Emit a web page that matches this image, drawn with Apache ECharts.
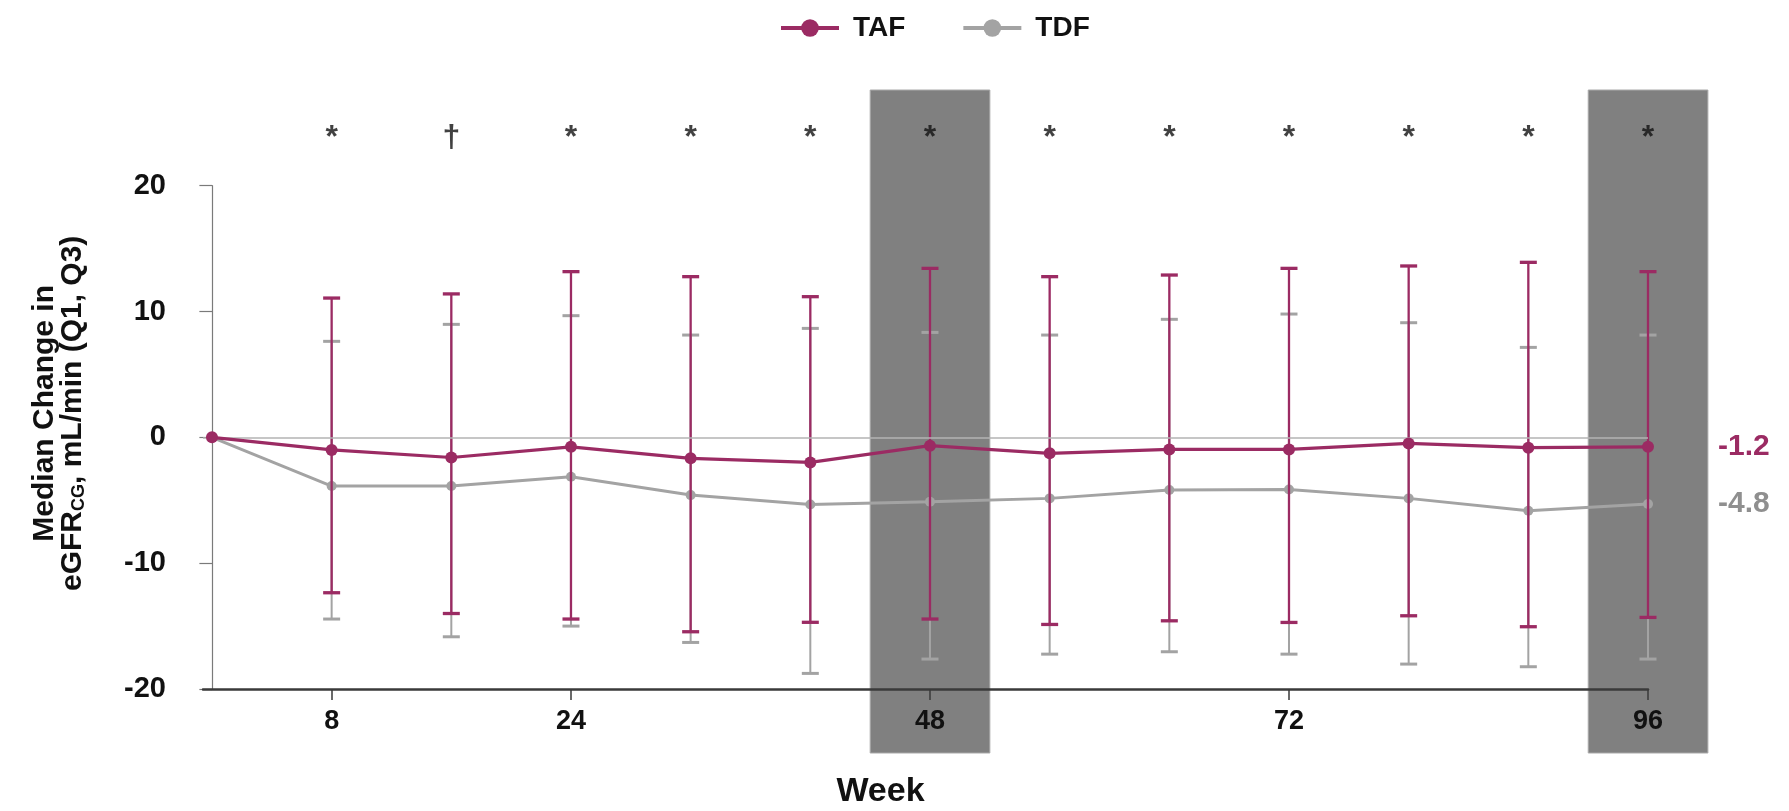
<!DOCTYPE html>
<html><head><meta charset="utf-8">
<script src="https://cdn.jsdelivr.net/npm/echarts@6/dist/echarts.min.js"></script>
<style>html,body{margin:0;padding:0;background:#fff}#c{width:1789px;height:811px}</style>
</head><body><div id="c"></div>
<script>
// ---- data ----
const weeks      = [0, 8, 16, 24, 32, 40, 48, 56, 64, 72, 80, 88, 96];
const tafMedian  = [0, -1.0, -1.6, -0.75, -1.67, -1.99, -0.66, -1.27, -0.96, -0.96, -0.48, -0.82, -0.75];
const tafQ1      = [null, -12.35, -14.0, -14.44, -15.45, -14.7, -14.44, -14.87, -14.58, -14.71, -14.18, -15.05, -14.31];
const tafQ3      = [null, 11.07, 11.4, 13.17, 12.77, 11.18, 13.43, 12.77, 12.9, 13.43, 13.62, 13.91, 13.17];
const tdfMedian  = [0, -3.87, -3.87, -3.13, -4.59, -5.33, -5.12, -4.85, -4.19, -4.14, -4.85, -5.83, -5.3];
const tdfQ1      = [null, -14.44, -15.85, -15.0, -16.3, -18.76, -17.62, -17.23, -17.04, -17.23, -18.02, -18.23, -17.62];
const tdfQ3      = [null, 7.63, 8.98, 9.67, 8.13, 8.66, 8.34, 8.13, 9.38, 9.8, 9.11, 7.15, 8.13];
const sigMarks   = ['', '*', '†', '*', '*', '*', '*', '*', '*', '*', '*', '*', '*'];
const sigLevel   = 23.8;
const xTickWeeks = [8, 24, 48, 72, 96];
const highlightWeeks = [[44, 52], [92, 100]];
const endLabels  = { TAF: '-1.2', TDF: '-4.8' };
const seriesNames = ['TAF', 'TDF'];

// ---- styles ----
const TAF_C = '#9b2b63';
const TDF_C = '#a3a3a3';
const FONT = "'Liberation Sans', Arial, Helvetica, sans-serif";

function errRender(color, lw, capHalf) {
  return function (params, api) {
    const x = api.value(0), lo = api.value(1), hi = api.value(2);
    const pLo = api.coord([x, lo]), pHi = api.coord([x, hi]);
    return {
      type: 'group',
      children: [
        { type: 'line', shape: { x1: pLo[0], y1: pLo[1], x2: pHi[0], y2: pHi[1] }, style: { stroke: color, lineWidth: lw } },
        { type: 'line', shape: { x1: pLo[0] - capHalf, y1: pLo[1], x2: pLo[0] + capHalf, y2: pLo[1] }, style: { stroke: color, lineWidth: lw + 1 } },
        { type: 'line', shape: { x1: pHi[0] - capHalf, y1: pHi[1], x2: pHi[0] + capHalf, y2: pHi[1] }, style: { stroke: color, lineWidth: lw + 1 } }
      ]
    };
  };
}
const tafErr = weeks.map((w, i) => [w, tafQ1[i], tafQ3[i]]).filter(d => d[1] != null);
const tdfErr = weeks.map((w, i) => [w, tdfQ1[i], tdfQ3[i]]).filter(d => d[1] != null);
const tafLine = weeks.map((w, i) => [w, tafMedian[i]]);
const tdfLine = weeks.map((w, i) => [w, tdfMedian[i]]);
const sigData = weeks.map((w, i) => [w, sigLevel, sigMarks[i]]).filter(d => d[2] !== '');

const chart = echarts.init(document.getElementById('c'), null, { renderer: 'canvas' });
chart.setOption({
  animation: false,
  textStyle: { fontFamily: FONT },
  legend: {
    data: seriesNames,
    left: 774, top: 9,
    itemWidth: 58, itemHeight: 22, itemGap: 56,
    textStyle: { fontSize: 28, fontWeight: 'bold', color: '#111', padding: [0, 0, 0, 9], fontFamily: FONT },
    lineStyle: { width: 4 }
  },
  grid: [
    { left: 203, right: 141, top: 185.7, bottom: 122, outerBoundsMode: 'none' },
    { left: 203, right: 81.1, top: 90, bottom: 58, outerBoundsMode: 'none' }
  ],
  xAxis: [
    {
      gridIndex: 0, type: 'value', min: -0.6, max: 96, z: 6,
      name: 'Week', nameLocation: 'middle', nameGap: 86,
      nameTextStyle: { fontSize: 34, fontWeight: 'bold', color: '#111', padding: [0, 90, 0, 0] },
      axisLine: { show: true, onZero: false, lineStyle: { color: '#3a3a3a', width: 2.5 } },
      axisTick: { show: true, customValues: xTickWeeks, length: 11, lineStyle: { color: '#3a3a3a', width: 1.5 } },
      axisLabel: { show: true, customValues: xTickWeeks, margin: 19, fontSize: 27, fontWeight: 'bold', color: '#111' },
      splitLine: { show: false }
    },
    { gridIndex: 1, type: 'value', min: -0.6, max: 100, show: false }
  ],
  yAxis: [
    {
      gridIndex: 0, type: 'value', min: -20, max: 20, interval: 10,
      name: 'Median Change in\n{b|eGFR}{s|CG}{b|, mL/min (Q1, Q3)}',
      nameLocation: 'middle', nameGap: 116, nameRotate: 90,
      nameTextStyle: {
        fontSize: 30, fontWeight: 'bold', color: '#111', lineHeight: 28, padding: [0, 0, 0, 48],
        rich: {
          b: { fontSize: 30, fontWeight: 'bold', color: '#111', fontFamily: FONT },
          s: { fontSize: 18, fontWeight: 'bold', color: '#111', fontFamily: FONT, padding: [12, 0, 0, 0] }
        }
      },
      axisLine: { show: true, lineStyle: { color: '#7a7a7a', width: 1.2 } },
      axisTick: { show: true, length: 12.6, lineStyle: { color: '#7a7a7a', width: 1.2 } },
      axisLabel: { margin: 37, fontSize: 29, fontWeight: 'bold', color: '#111' },
      splitLine: { show: false }
    },
    { gridIndex: 1, type: 'value', min: -25.1, max: 27.6, show: false }
  ],
  series: [
    {
      name: 'zero', type: 'line', xAxisIndex: 0, yAxisIndex: 0, data: [], z: 0, silent: true,
      markLine: {
        silent: true, symbol: 'none', label: { show: false },
        lineStyle: { color: '#b3b3b3', width: 1.5, type: 'solid' },
        data: [{ yAxis: 0 }]
      }
    },
    {
      name: 'bands', type: 'line', xAxisIndex: 1, yAxisIndex: 1, data: [], z: 1, silent: true,
      markArea: {
        silent: true,
        itemStyle: { color: '#808080', borderColor: '#a9a9a9', borderWidth: 1 },
        data: highlightWeeks.map(b => [{ xAxis: b[0] }, { xAxis: b[1] }])
      }
    },
    {
      name: 'TDF err', type: 'custom', xAxisIndex: 0, yAxisIndex: 0, z: 2,
      renderItem: errRender(TDF_C, 2, 8.5), data: tdfErr, silent: true
    },
    {
      name: 'TDF', type: 'line', xAxisIndex: 0, yAxisIndex: 0, z: 3, data: tdfLine,
      color: TDF_C,
      lineStyle: { color: TDF_C, width: 3 },
      itemStyle: { color: TDF_C },
      symbol: 'circle', symbolSize: 10,
      endLabel: { show: true, formatter: endLabels.TDF, distance: 70, color: '#8f8f8f', fontSize: 30, fontWeight: 'bold', fontFamily: FONT }
    },
    {
      name: 'TAF err', type: 'custom', xAxisIndex: 0, yAxisIndex: 0, z: 4,
      renderItem: errRender(TAF_C, 2.3, 8.5), data: tafErr, silent: true
    },
    {
      name: 'TAF', type: 'line', xAxisIndex: 0, yAxisIndex: 0, z: 5, data: tafLine,
      color: TAF_C,
      lineStyle: { color: TAF_C, width: 3.2 },
      itemStyle: { color: TAF_C },
      symbol: 'circle', symbolSize: 12,
      endLabel: { show: true, formatter: endLabels.TAF, distance: 70, color: TAF_C, fontSize: 30, fontWeight: 'bold', fontFamily: FONT }
    },
    {
      name: 'sig', type: 'scatter', xAxisIndex: 1, yAxisIndex: 1, z: 6, data: sigData,
      symbolSize: 1, itemStyle: { color: 'rgba(0,0,0,0)' }, silent: true,
      label: { show: true, position: 'inside', formatter: p => p.value[2], fontSize: 32, fontWeight: 'bold', color: '#111', fontFamily: FONT }
    }
  ]
});
</script>
</body></html>
